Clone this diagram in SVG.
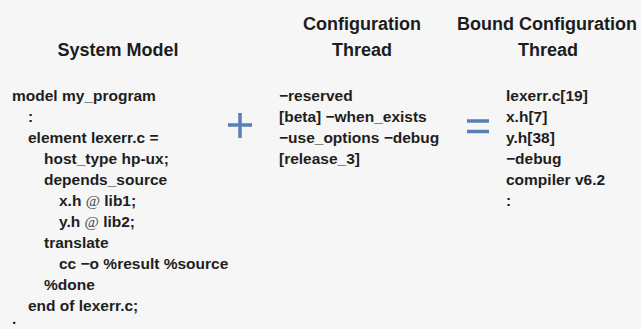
<svg xmlns="http://www.w3.org/2000/svg" width="641" height="329" viewBox="0 0 641 329">
<style>
.bg{fill:#f6f6f6}
.h{font-family:"Liberation Sans",Arial,sans-serif;font-weight:bold;font-size:18px;fill:#1c1c1c;text-anchor:middle}
.t{font-family:"Liberation Sans",Arial,sans-serif;font-weight:bold;font-size:15.5px;fill:#1e1e1e}
.at{font-family:"Liberation Serif","Times New Roman",serif;font-weight:normal;fill:#444}
.op{stroke:#5a7db5;stroke-width:3.5;fill:none;stroke-linecap:butt}
</style>
<rect class="bg" x="0" y="0" width="641" height="329"/>
<g id="system-model">
<text class="h" x="118" y="56">System Model</text>
<text class="t" x="12" y="100.5">model my_program</text>
<text class="t" x="28" y="121.5">:</text>
<text class="t" x="28" y="142.5">element lexerr.c =</text>
<text class="t" x="44" y="163.5">host_type hp-ux;</text>
<text class="t" x="44" y="184.5">depends_source</text>
<text class="t" x="59" y="205.5">x.h <tspan class="at">@</tspan> lib1;</text>
<text class="t" x="59" y="226.5">y.h <tspan class="at">@</tspan> lib2;</text>
<text class="t" x="44" y="247.5">translate</text>
<text class="t" x="59" y="268.5">cc −o %result %source</text>
<text class="t" x="44" y="289.5">%done</text>
<text class="t" x="28" y="310.5">end of lexerr.c;</text>
<text class="t" x="12" y="324">.</text>
</g>
<g id="configuration-thread">
<text class="h" x="362" y="30">Configuration</text>
<text class="h" x="362" y="56">Thread</text>
<text class="t" x="279" y="100.5">−reserved</text>
<text class="t" x="279" y="121.5">[beta] −when_exists</text>
<text class="t" x="279" y="142.5">−use_options −debug</text>
<text class="t" x="279" y="163.5">[release_3]</text>
</g>
<g id="bound-configuration-thread">
<text class="h" x="547" y="30">Bound Configuration</text>
<text class="h" x="548" y="56">Thread</text>
<text class="t" x="506" y="100.5">lexerr.c[19]</text>
<text class="t" x="506" y="121.5">x.h[7]</text>
<text class="t" x="506" y="142.5">y.h[38]</text>
<text class="t" x="506" y="163.5">−debug</text>
<text class="t" x="506" y="184.5">compiler v6.2</text>
<text class="t" x="506" y="205.5">:</text>
</g>
<g id="operators">
<path class="op" d="M228 125H252M240 113V138"/>
<path class="op" d="M467 121H489M467 131.5H489"/>
</g>
</svg>
